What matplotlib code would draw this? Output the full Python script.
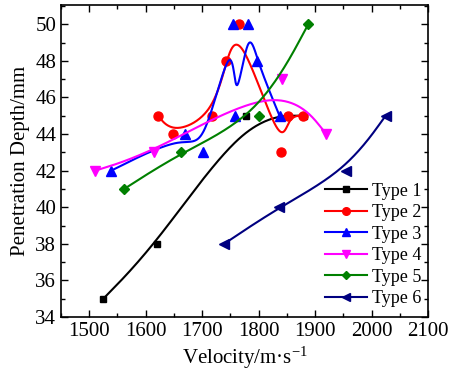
import numpy as np
import matplotlib
matplotlib.use("Agg")
import matplotlib.pyplot as plt
from matplotlib.ticker import MultipleLocator

plt.rcParams['font.family'] = ['Liberation Serif', 'DejaVu Serif']
plt.rcParams['mathtext.fontset'] = 'custom'
plt.rcParams['mathtext.rm'] = 'Liberation Serif'
plt.rcParams['mathtext.it'] = 'Liberation Serif:italic'

labels = ['Type 1', 'Type 2', 'Type 3', 'Type 4', 'Type 5', 'Type 6']

t1_x = [1525, 1620, 1778, 1880]
t1_y = [35, 38, 45, 45]
t2_x = [1622, 1648, 1718, 1743, 1765, 1840, 1852, 1879]
t2_y = [45, 44, 45, 48, 50, 43, 45, 45]
t3_x = [1539, 1669, 1702, 1755, 1758, 1782, 1797, 1837]
t3_y = [42, 44, 43, 50, 45, 50, 48, 45]
t4_x = [1511, 1615, 1841, 1920]
t4_y = [42, 43, 47, 44]
t5_x = [1562, 1663, 1801, 1888]
t5_y = [41, 43, 45, 50]
t6_x = [1739, 1836, 1955, 2025]
t6_y = [38, 40, 42, 45]

series_x = [t1_x, t2_x, t3_x, t4_x, t5_x, t6_x]
series_y = [t1_y, t2_y, t3_y, t4_y, t5_y, t6_y]
colors = ['black', '#FF0000', '#0000FF', '#FF00FF', '#008000', '#000080']
markers = ['s', 'o', '^', 'v', 'D', '<']
msizes = [5, 6.5, 7, 7, 5.5, 7]


def bspline(x, y, n=60):
    P = np.column_stack([x, y]).astype(float)
    P = np.vstack([P[:1], P[:1], P, P[-1:], P[-1:]])
    t = np.linspace(0, 1, n)[:, None]
    b0 = (1 - t) ** 3 / 6
    b1 = (3 * t ** 3 - 6 * t ** 2 + 4) / 6
    b2 = (-3 * t ** 3 + 3 * t ** 2 + 3 * t + 1) / 6
    b3 = t ** 3 / 6
    segs = []
    for i in range(len(P) - 3):
        segs.append(b0 * P[i] + b1 * P[i + 1] + b2 * P[i + 2] + b3 * P[i + 3])
    c = np.vstack(segs)
    return c[:, 0], c[:, 1]


fig = plt.figure(figsize=(4.5, 3.79), dpi=100)
ax = fig.add_axes([61 / 450, 1 - 317 / 379, (428 - 61) / 450, (317 - 5) / 379])

for xs, ys, c, m, ms, lab in zip(series_x, series_y, colors, markers, msizes, labels):
    cx, cy = bspline(xs, ys)
    ax.plot(cx, cy, color=c, lw=1.5)
    ax.plot(xs, ys, linestyle='none', marker=m, ms=ms, color=c)
    ax.plot([], [], color=c, lw=1.5, marker=m, ms=ms - 1, label=lab)

ax.set_xlim(1450, 2100)
ax.set_ylim(34, 51.05)
ax.xaxis.set_major_locator(MultipleLocator(100))
ax.xaxis.set_minor_locator(MultipleLocator(50))
ax.yaxis.set_major_locator(MultipleLocator(2))
ax.yaxis.set_minor_locator(MultipleLocator(1))
ax.tick_params(which='both', direction='in', top=True, right=True, labelsize=15, width=1)
ax.tick_params(which='major', length=5)
ax.tick_params(which='minor', length=3)
for s in ax.spines.values():
    s.set_linewidth(1.2)

ax.set_xlabel('Velocity/m·s$^{\\mathregular{-1}}$', fontsize=15, labelpad=3)
ax.set_ylabel('Penetration Depth/mm', fontsize=15, labelpad=4)

leg = ax.legend(loc='lower right', frameon=False, fontsize=13, handlelength=2.3,
                labelspacing=0.25, handletextpad=0.3, borderaxespad=0.15,
                bbox_to_anchor=(1.01, 0.0))

fig.savefig('out.png', dpi=100)
